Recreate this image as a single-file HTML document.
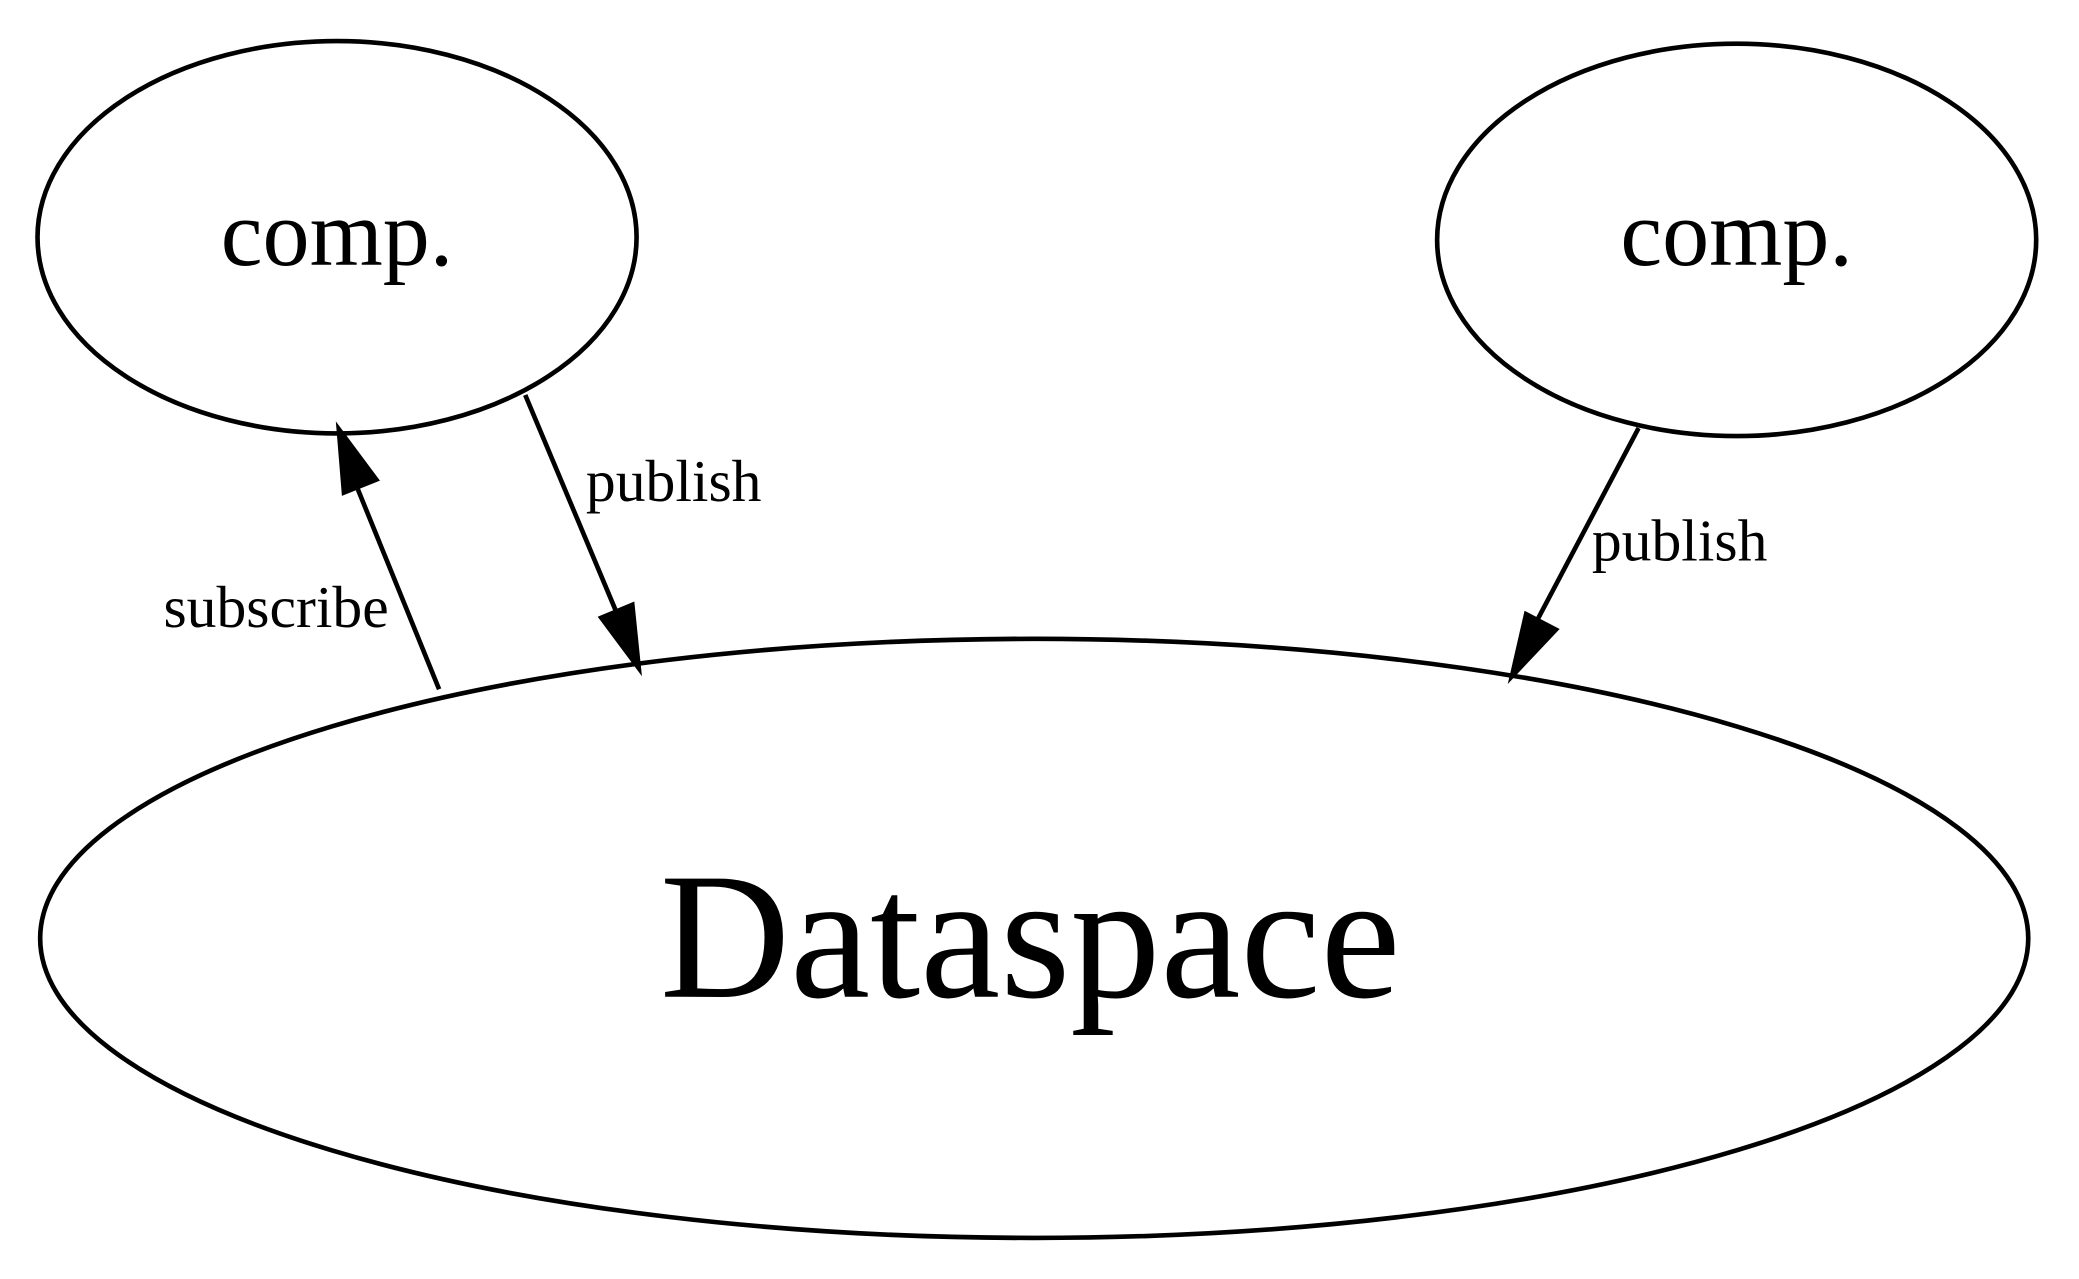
<!DOCTYPE html>
<html><head><meta charset="utf-8"><style>
html,body{margin:0;padding:0;background:#fff;}
svg{display:block;}
text{font-family:"Liberation Serif",serif;fill:#000;}
</style></head><body>
<svg width="2079" height="1279" viewBox="0 0 1568 965" xmlns="http://www.w3.org/2000/svg">
<g fill="none" stroke="#000" stroke-width="3.5">
<ellipse cx="254" cy="179" rx="226" ry="148"/>
<ellipse cx="1310" cy="181" rx="226" ry="148"/>
<ellipse cx="780" cy="708" rx="750" ry="226"/>
<line x1="331" y1="520" x2="268" y2="365"/>
<line x1="396" y1="298" x2="464" y2="460"/>
<line x1="1236" y1="323" x2="1160" y2="467"/>
</g>
<g fill="#000" stroke="#000" stroke-width="3">
<polygon points="255,323 284,362 259,372"/>
<polygon points="482,505 453,466 477,456"/>
<polygon points="1140,511 1151,463 1174,475"/>
</g>
<text x="254" y="200" font-size="71" text-anchor="middle">comp.</text>
<text x="1310" y="200" font-size="71" text-anchor="middle">comp.</text>
<text x="777" y="752" font-size="136" text-anchor="middle">Dataspace</text>
<text x="208" y="473" font-size="45" text-anchor="middle">subscribe</text>
<text x="508" y="378" font-size="45" text-anchor="middle">publish</text>
<text x="1267" y="423" font-size="45" text-anchor="middle">publish</text>
</svg>
</body></html>
